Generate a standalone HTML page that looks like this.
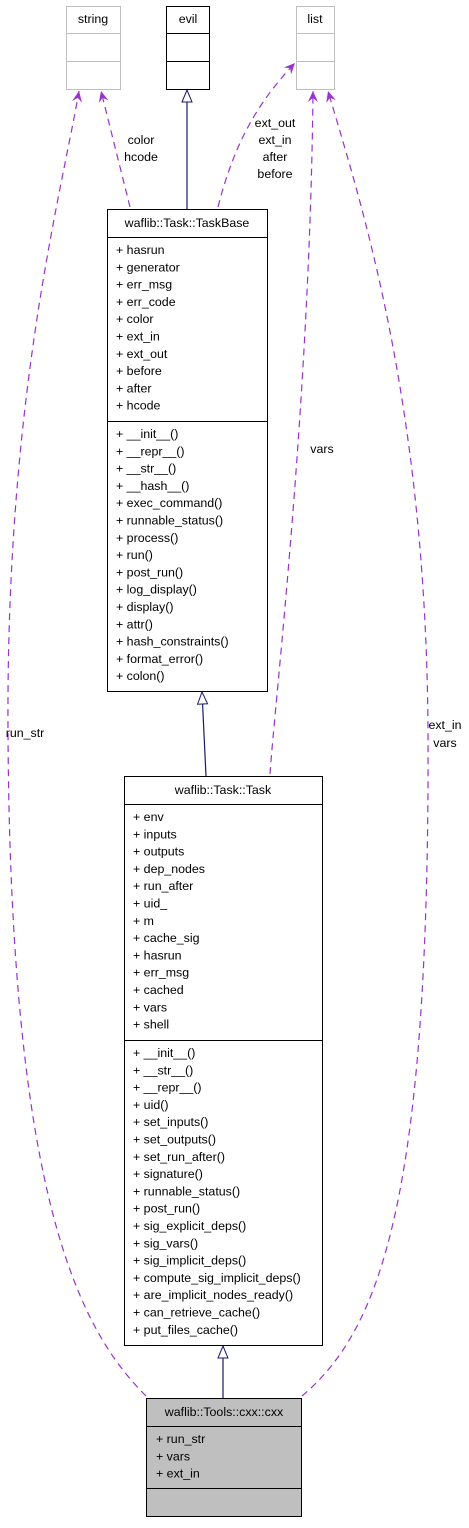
<!DOCTYPE html>
<html><head><meta charset="utf-8"><style>
body{margin:0;background:#fff}
svg text{font-family:"Liberation Sans",sans-serif;font-size:12.4px;fill:#000}
</style></head><body>
<svg width="469" height="1523" viewBox="0 0 469 1523" xmlns="http://www.w3.org/2000/svg">
<defs>
<marker id="pa" markerWidth="12" markerHeight="12" refX="11" refY="6" orient="auto" markerUnits="userSpaceOnUse">
<path d="M0,1 L11,6 L0,11 L4,6 Z" fill="#9a32cd"/></marker>
<marker id="tri" markerWidth="14" markerHeight="14" refX="13" refY="6" orient="auto" markerUnits="userSpaceOnUse">
<path d="M1,1 L13,6 L1,11 Z" fill="#fff" stroke="#191970" stroke-width="1"/></marker>
</defs>
<g fill="none" stroke="#9a32cd" stroke-dasharray="7,5" stroke-width="1.2">
<path d="M146,1396 C80,1330 10,1200 8,730 C6,400 60,200 79,91" marker-end="url(#pa)"/>
<path d="M130,207 L101,91" marker-end="url(#pa)"/>
<path d="M218,207 C235,140 260,100 295,63" marker-end="url(#pa)"/>
<path d="M270,774 C275,700 310,400 313,91" marker-end="url(#pa)"/>
<path d="M302,1396 C380,1330 430,1200 428,730 C426,400 360,200 328,91" marker-end="url(#pa)"/>
</g>
<g stroke="#191970" stroke-width="1.2" fill="none">
<path d="M187,209 L187,90" marker-end="url(#tri)"/>
<path d="M206,776 L202,692" marker-end="url(#tri)"/>
<path d="M223,1398 L223,1346" marker-end="url(#tri)"/>
</g>
<g stroke="#bfbfbf" stroke-width="1" fill="#fff">
<rect x="66.5" y="6.5" width="54" height="83"/><line x1="66" y1="33.5" x2="121" y2="33.5"/><line x1="66" y1="61.5" x2="121" y2="61.5"/>
<rect x="296.5" y="6.5" width="38" height="83"/><line x1="296" y1="33.5" x2="335" y2="33.5"/><line x1="296" y1="61.5" x2="335" y2="61.5"/>
</g>
<g stroke="#000" stroke-width="1" fill="#fff">
<rect x="166.5" y="6.5" width="43" height="83"/><line x1="166" y1="33.5" x2="210" y2="33.5"/><line x1="166" y1="61.5" x2="210" y2="61.5"/>
<rect x="107.5" y="209.5" width="160" height="482"/><line x1="107" y1="237.5" x2="268" y2="237.5"/><line x1="107" y1="421.5" x2="268" y2="421.5"/>
<rect x="124.5" y="776.5" width="198" height="569"/><line x1="124" y1="804.5" x2="323" y2="804.5"/><line x1="124" y1="1040.5" x2="323" y2="1040.5"/>
<rect x="146.5" y="1398.5" width="155" height="118" fill="#bfbfbf"/><line x1="146" y1="1426.5" x2="302" y2="1426.5"/><line x1="146" y1="1488.5" x2="302" y2="1488.5"/>
</g>
<g text-anchor="middle">
<text x="93" y="23">string</text><text x="188" y="23">evil</text><text x="315" y="23">list</text>
<text x="187" y="227">waflib::Task::TaskBase</text>
<text x="223" y="794">waflib::Task::Task</text>
<text x="224" y="1416">waflib::Tools::cxx::cxx</text>
<text x="141" y="144">color</text><text x="141" y="161">hcode</text>
<text x="275" y="127">ext_out</text><text x="275" y="144">ext_in</text><text x="275" y="161">after</text><text x="275" y="178">before</text>
<text x="322" y="453">vars</text>
<text x="25" y="737">run_str</text>
<text x="445" y="729">ext_in</text><text x="445" y="747">vars</text>
</g>
<g>
<text x="116" y="254">+ hasrun</text><text x="116" y="271.3">+ generator</text><text x="116" y="288.6">+ err_msg</text><text x="116" y="305.9">+ err_code</text><text x="116" y="323.2">+ color</text><text x="116" y="340.5">+ ext_in</text><text x="116" y="357.8">+ ext_out</text><text x="116" y="375.1">+ before</text><text x="116" y="392.4">+ after</text><text x="116" y="409.7">+ hcode</text>
<text x="116" y="438">+ __init__()</text><text x="116" y="455.3">+ __repr__()</text><text x="116" y="472.6">+ __str__()</text><text x="116" y="489.9">+ __hash__()</text><text x="116" y="507.2">+ exec_command()</text><text x="116" y="524.5">+ runnable_status()</text><text x="116" y="541.8">+ process()</text><text x="116" y="559.1">+ run()</text><text x="116" y="576.4">+ post_run()</text><text x="116" y="593.7">+ log_display()</text><text x="116" y="611">+ display()</text><text x="116" y="628.3">+ attr()</text><text x="116" y="645.6">+ hash_constraints()</text><text x="116" y="662.9">+ format_error()</text><text x="116" y="680.2">+ colon()</text>
<text x="133" y="821">+ env</text><text x="133" y="838.3">+ inputs</text><text x="133" y="855.6">+ outputs</text><text x="133" y="872.9">+ dep_nodes</text><text x="133" y="890.2">+ run_after</text><text x="133" y="907.5">+ uid_</text><text x="133" y="924.8">+ m</text><text x="133" y="942.1">+ cache_sig</text><text x="133" y="959.4">+ hasrun</text><text x="133" y="976.7">+ err_msg</text><text x="133" y="994">+ cached</text><text x="133" y="1011.3">+ vars</text><text x="133" y="1028.6">+ shell</text>
<text x="133" y="1057">+ __init__()</text><text x="133" y="1074.3">+ __str__()</text><text x="133" y="1091.6">+ __repr__()</text><text x="133" y="1108.9">+ uid()</text><text x="133" y="1126.2">+ set_inputs()</text><text x="133" y="1143.5">+ set_outputs()</text><text x="133" y="1160.8">+ set_run_after()</text><text x="133" y="1178.1">+ signature()</text><text x="133" y="1195.4">+ runnable_status()</text><text x="133" y="1212.7">+ post_run()</text><text x="133" y="1230">+ sig_explicit_deps()</text><text x="133" y="1247.3">+ sig_vars()</text><text x="133" y="1264.6">+ sig_implicit_deps()</text><text x="133" y="1281.9">+ compute_sig_implicit_deps()</text><text x="133" y="1299.2">+ are_implicit_nodes_ready()</text><text x="133" y="1316.5">+ can_retrieve_cache()</text><text x="133" y="1333.8">+ put_files_cache()</text>
<text x="156" y="1443">+ run_str</text><text x="156" y="1460.3">+ vars</text><text x="156" y="1477.6">+ ext_in</text>
</g>
</svg>
</body></html>
